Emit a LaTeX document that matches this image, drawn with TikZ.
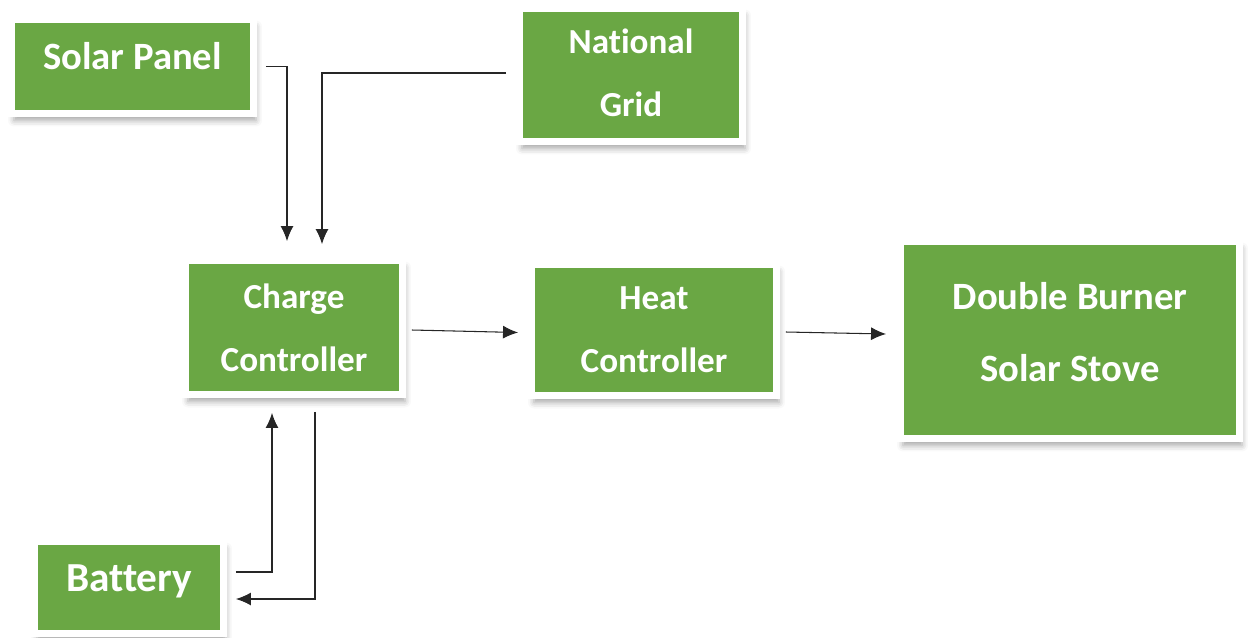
\documentclass[tikz,border=0pt]{standalone}
\usepackage{fontspec}
\setmainfont{Carlito}[Ligatures=NoCommon]
\usepackage{tikz}
\usetikzlibrary{arrows.meta,positioning,shadows.blur}
\definecolor{BlockGreen}{HTML}{6AA744}

\begin{document}
\begin{tikzpicture}[x=0.02cm, y=-0.02cm, >={Latex[length=0.3cm,width=0.26cm]}]
    \useasboundingbox (0,0) rectangle (1251,637);
    \tikzset{block/.style={fill=BlockGreen,draw=white,line width=0.14cm,inner sep=0pt,
      text=white,align=center,blur shadow={shadow xshift=0.05cm,shadow yshift=-0.14cm,
      shadow blur radius=0.12cm,shadow opacity=35}},
      link/.style={->,line width=0.6pt,black!85}}
    \node[block,minimum width=4.84cm,minimum height=1.88cm,text depth=0.42cm,
      font=\fontsize{22}{36}\bfseries] (solar) at (132.5,66.5) {Solar Panel};
    \node[block,minimum width=4.46cm,minimum height=2.66cm,text depth=0.1cm,
      font=\fontsize{20}{36}\bfseries] (grid) at (631,75) {National\\Grid};
    \node[block,minimum width=4.34cm,minimum height=2.68cm,
      font=\fontsize{20}{36}\bfseries] (charge) at (294,327.5) {Charge\\Controller};
    \node[block,minimum width=4.9cm,minimum height=2.62cm,
      font=\fontsize{20}{36}\bfseries] (heat) at (654,330) {Heat\\Controller};
    \node[block,minimum width=6.78cm,minimum height=3.94cm,text depth=0.32cm,
      font=\fontsize{22}{41}\bfseries] (stove) at (1070,340) {Double Burner\\Solar Stove};
    \node[block,minimum width=3.78cm,minimum height=1.84cm,text depth=0.38cm,
      font=\fontsize{23.5}{36}\bfseries] (battery) at (129,587.5) {Battery};
    \draw[link] ([xshift=0.18cm]solar.east) -| ([xshift=-0.14cm,yshift=0.32cm]charge.north);
    \draw[link] ([xshift=-0.2cm,yshift=0.04cm]grid.west) -| ([xshift=0.56cm,yshift=0.26cm]charge.north);
    \draw[link] ([xshift=0.12cm,yshift=-0.05cm]charge.east) -- ([xshift=-0.2cm,yshift=-0.05cm]heat.west);
    \draw[link] ([xshift=0.12cm,yshift=-0.04cm]heat.east) -- ([xshift=-0.22cm,yshift=0.12cm]stove.west);
    \draw[link] ([xshift=0.18cm,yshift=0.31cm]battery.east) -| ([xshift=-0.44cm,yshift=-0.3cm]charge.south);
    \draw[link] ([xshift=0.42cm,yshift=-0.28cm]charge.south) |- ([xshift=0.18cm,yshift=-0.23cm]battery.east);
  \end{tikzpicture}
\end{document}
